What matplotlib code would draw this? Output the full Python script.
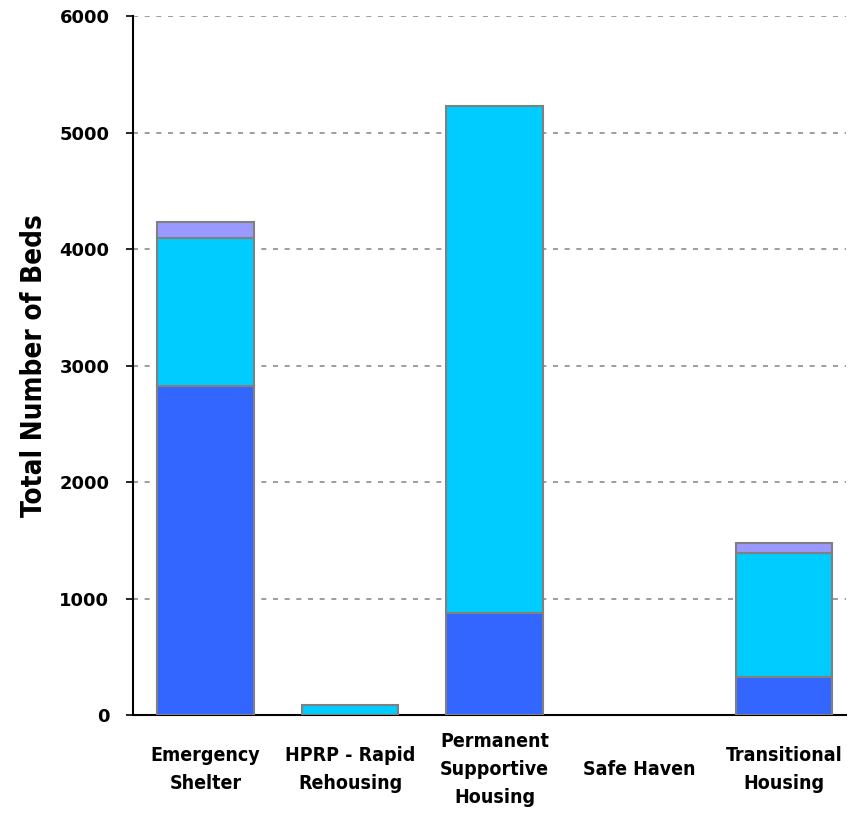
import matplotlib.pyplot as plt
import numpy as np

categories = ["Emergency\nShelter", "HPRP - Rapid\nRehousing", "Permanent\nSupportive\nHousing",
              "Safe Haven", "Transitional\nHousing"]
seg_dark = [2824, 0, 876, 0, 326]
seg_cyan = [1270, 86, 4352, 0, 1065]
seg_purple = [138, 0, 0, 0, 85]
yticks = [0, 1000, 2000, 3000, 4000, 5000, 6000]

fig = plt.figure(figsize=(8.5, 8.13), dpi=100)
ax = fig.add_axes([0.1565, 0.1205, 0.839, 0.8595])

x = np.arange(len(categories))
w = 0.67
bottom = np.zeros(len(categories))
for vals, col in [(seg_dark, "#3366FF"), (seg_cyan, "#00CCFF"), (seg_purple, "#9999FF")]:
    vals = np.array(vals, dtype=float)
    lw = np.where(vals > 0, 1.5, 0)
    ax.bar(x, vals, w, bottom=bottom, color=col, edgecolor="#808080", linewidth=lw, zorder=3)
    bottom = bottom + vals

ax.set_xlim(-0.5, 4.43)
ax.set_ylim(0, 6000)
ax.set_yticks(yticks)
ax.set_yticklabels([str(v) for v in yticks], fontsize=13, fontweight="bold", family="DejaVu Sans")
ax.yaxis.grid(True, linestyle=(0, (3, 4)), color="#8c8c8c", linewidth=1.2, zorder=0)

ax.set_xticks(x)
ax.set_xticklabels(categories, fontsize=14, fontweight="bold", family="DejaVu Sans",
                   fontstretch="condensed", va="center", linespacing=1.6)
ax.tick_params(axis="x", length=0, pad=39)
ax.tick_params(axis="y", length=5, width=1.2, pad=12, direction="out")

ax.set_ylabel("Total Number of Beds", fontsize=20, fontweight="bold",
              family="DejaVu Sans", fontstretch="condensed", labelpad=8)

for s in ["top", "right"]:
    ax.spines[s].set_visible(False)
ax.spines["left"].set_linewidth(1.5)
ax.spines["bottom"].set_linewidth(1.5)

fig.savefig("out.png", dpi=100)
